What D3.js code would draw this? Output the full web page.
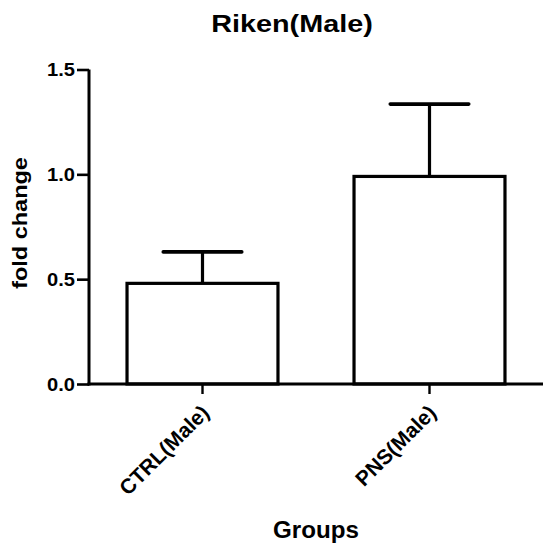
<!DOCTYPE html>
<html>
<head>
<meta charset="utf-8">
<script src="https://cdn.jsdelivr.net/npm/d3@7/dist/d3.min.js"></script>
<style>
  body { margin: 0; background: #fff; }
  text { font-family: Arial, "Liberation Sans", sans-serif; font-weight: bold; fill: #000; }
</style>
</head>
<body>
<svg width="543" height="547"></svg>
<script>
// chart data
var groups = ['CTRL(Male)', 'PNS(Male)'];
var means = [0.48, 0.99];
var sems = [0.15, 0.345];
var yTicks = [0.0, 0.5, 1.0, 1.5];

var svg = d3.select('svg');
var svgWidth = +svg.attr('width');

var padding = {t: 69.5, r: 0, b: 163, l: 89};
var axisY = 384;

// scales
var xScale = d3.scaleBand()
    .domain(groups)
    .range([padding.l, svgWidth])
    .paddingInner(0)
    .paddingOuter(0);

var yScale = d3.scaleLinear()
    .domain([0, 1.5])
    .range([axisY, padding.t]);

var barW = xScale.bandwidth() * 0.665;
var capW = barW * 0.52;

// bars
var bars = svg.append('g').attr('class', 'bars');
bars.selectAll('rect')
    .data(groups)
    .enter()
    .append('rect')
    .attr('x', function(d){ return xScale(d) + xScale.bandwidth() / 2 - barW / 2; })
    .attr('y', function(d, i){ return yScale(means[i]); })
    .attr('width', barW)
    .attr('height', function(d, i){ return yScale(0) - yScale(means[i]); })
    .style('fill', '#fff')
    .style('stroke', '#000')
    .style('stroke-width', 3.2);

// error bars (upper only)
var err = svg.append('g').attr('class', 'errors');
groups.forEach(function(g, i){
    var cx = xScale(g) + xScale.bandwidth() / 2;
    err.append('line')
        .attr('x1', cx).attr('x2', cx)
        .attr('y1', yScale(means[i]))
        .attr('y2', yScale(means[i] + sems[i]))
        .style('stroke', '#000').style('stroke-width', 3.2);
    err.append('line')
        .attr('x1', cx - capW / 2).attr('x2', cx + capW / 2)
        .attr('y1', yScale(means[i] + sems[i]))
        .attr('y2', yScale(means[i] + sems[i]))
        .style('stroke', '#000').style('stroke-width', 3.6)
        .style('stroke-linecap', 'round');
});

// y axis
var yAxis = svg.append('g')
    .attr('class', 'y axis')
    .attr('transform', 'translate(' + padding.l + ',0)')
    .call(d3.axisLeft(yScale).tickValues(yTicks).tickSize(12).tickSizeOuter(0)
        .tickFormat(d3.format('.1f')));
yAxis.select('.domain').style('stroke-width', 3).attr('d', 'M0,' + yScale(1.5) + 'V' + (axisY + 1.5));
yAxis.selectAll('.tick line').style('stroke-width', 2.6);
yAxis.selectAll('.tick text')
    .attr('x', null).attr('dy', null)
    .style('font-size', '17.5px')
    .attr('text-anchor', 'end')
    .attr('dominant-baseline', 'central')
    .attr('transform', 'translate(-14,0) scale(1.15,1)');

// x axis
var xAxis = svg.append('g')
    .attr('class', 'x axis')
    .attr('transform', 'translate(0,' + axisY + ')')
    .call(d3.axisBottom(xScale).tickSize(10).tickSizeOuter(0));
xAxis.select('.domain').style('stroke-width', 3).attr('d', 'M' + (padding.l - 1.5) + ',0H' + svgWidth);
xAxis.selectAll('.tick line').style('stroke-width', 2.4);
xAxis.selectAll('.tick text')
    .attr('y', null).attr('dy', null)
    .style('font-size', '21px')
    .attr('text-anchor', 'end')
    .attr('transform', 'translate(8,30) rotate(-45)');

// title
svg.append('text')
    .attr('class', 'title')
    .attr('text-anchor', 'middle')
    .style('font-size', '24px')
    .attr('transform', 'translate(292,32) scale(1.2,1)')
    .text('Riken(Male)');

// axis labels
svg.append('text')
    .attr('class', 'y-axis-label')
    .attr('text-anchor', 'middle')
    .style('font-size', '21px')
    .attr('transform', 'translate(27,223) rotate(-90) scale(1.12,1)')
    .text('fold change');

svg.append('text')
    .attr('class', 'x-axis-label')
    .attr('text-anchor', 'middle')
    .style('font-size', '23px')
    .attr('transform', 'translate(316,538) scale(1.05,1)')
    .text('Groups');
</script>
</body>
</html>
